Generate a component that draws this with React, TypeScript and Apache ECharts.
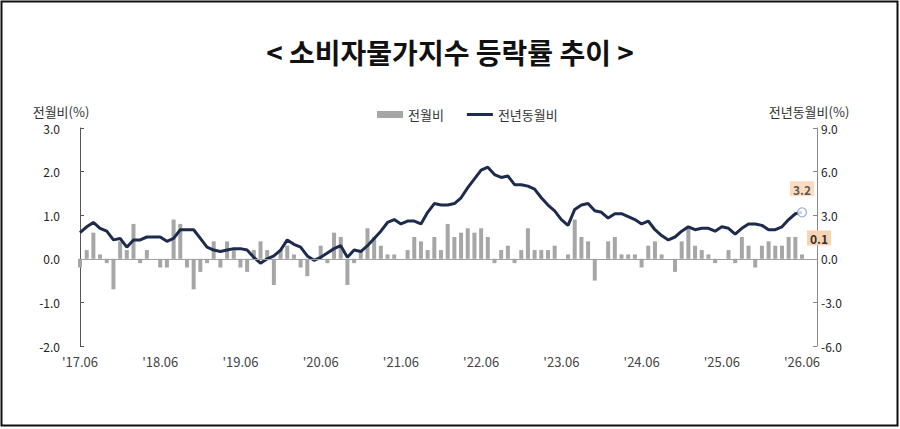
import React, { useEffect, useRef } from 'react';
import * as echarts from 'echarts';

const titleText = '< 소비자물가지수 등락률 추이 >';
const leftAxisName = '전월비(%)';
const rightAxisName = '전년동월비(%)';
const seriesNames = ['전월비', '전년동월비'];

// x tick labels, one every 12 months starting at index 0
const tickLabels = ["'17.06", "'18.06", "'19.06", "'20.06", "'21.06", "'22.06", "'23.06", "'24.06", "'25.06", "'26.06"];
const tickStep = 12;

// month-over-month change (%), 2017.06 .. 2026.06
const momValues = [
  -0.2, 0.2, 0.6, 0.1, -0.1, -0.7, 0.4, 0.2, 0.8, -0.1, 0.2, 0.0,
  -0.2, -0.2, 0.9, 0.8, -0.2, -0.7, -0.3, -0.1, 0.4, -0.2, 0.4, 0.2,
  -0.2, -0.3, 0.2, 0.4, 0.2, -0.6, 0.2, 0.3, 0.1, -0.2, -0.4, 0.0,
  0.3, -0.1, 0.6, 0.5, -0.6, -0.1, 0.2, 0.7, 0.5, 0.3, 0.1, 0.1,
  0.0, 0.2, 0.5, 0.4, 0.2, 0.5, 0.2, 0.8, 0.5, 0.6, 0.7, 0.6,
  0.7, 0.5, -0.1, 0.2, 0.3, -0.1, 0.2, 0.7, 0.2, 0.2, 0.2, 0.3,
  0.0, 0.1, 0.9, 0.5, 0.4, -0.5, 0.0, 0.4, 0.5, 0.1, 0.1, 0.1,
  -0.2, 0.3, 0.4, 0.1, 0.0, -0.3, 0.4, 0.7, 0.3, 0.2, 0.1, -0.1,
  0.0, 0.2, -0.1, 0.5, 0.3, -0.2, 0.3, 0.4, 0.3, 0.3, 0.5, 0.5,
  0.1,
];

// year-over-year change (%), 2017.06 .. 2026.06
const yoyValues = [
  1.8, 2.2, 2.5, 2.1, 1.9, 1.3, 1.4, 0.8, 1.3, 1.3, 1.5, 1.5,
  1.5, 1.2, 1.4, 2.0, 2.0, 2.0, 1.4, 0.8, 0.6, 0.5, 0.6, 0.7,
  0.7, 0.6, 0.1, -0.3, 0.0, 0.2, 0.6, 1.3, 1.0, 0.8, 0.2, -0.1,
  0.1, 0.4, 0.7, 0.9, 0.1, 0.6, 0.5, 0.9, 1.4, 1.9, 2.5, 2.7,
  2.4, 2.6, 2.6, 2.4, 3.2, 3.8, 3.7, 3.7, 3.8, 4.2, 4.9, 5.5,
  6.1, 6.3, 5.8, 5.6, 5.7, 5.1, 5.1, 5.0, 4.8, 4.2, 3.7, 3.3,
  2.7, 2.3, 3.4, 3.7, 3.8, 3.3, 3.2, 2.8, 3.1, 3.1, 2.9, 2.7,
  2.4, 2.6, 2.0, 1.6, 1.3, 1.5, 1.9, 2.2, 2.0, 2.1, 2.1, 1.9,
  2.2, 2.1, 1.7, 2.1, 2.4, 2.4, 2.3, 2.0, 2.0, 2.2, 2.7, 3.1,
  3.2,
];

const FONT = '"Noto Sans CJK KR", "Noto Sans", sans-serif';
const NAVY = '#1d2b4c';

export default function App() {
  const ref = useRef<HTMLDivElement>(null);

  useEffect(() => {
    if (!ref.current) return;
    const chart = echarts.init(ref.current, null, { renderer: 'svg' });
    const last = momValues.length - 1;
    const calloutLabel = {
      show: true,
      position: 'top',
      backgroundColor: '#fad3b2',
      padding: [2, 3, 1, 3],
      color: '#333',
      fontWeight: 'bold',
      fontSize: 12,
      fontFamily: FONT,
    };

    const barData = momValues.map((v, i) =>
      i === last
        ? { value: [i, v], label: { ...calloutLabel, formatter: v.toFixed(1), offset: [17, -4] } }
        : [i, v]
    );
    const lineData = yoyValues.map((v, i) => [i, v]);
    const lastPoint = [
      {
        value: [last, yoyValues[last]],
        label: { ...calloutLabel, formatter: yoyValues[last].toFixed(1), offset: [0, -6] },
      },
    ];

    chart.setOption({
      animation: false,
      textStyle: { fontFamily: FONT },
      title: {
        text: titleText,
        left: 'center',
        top: 33,
        textStyle: { fontSize: 28, fontWeight: 'bold', color: '#111', fontFamily: FONT },
      },
      legend: {
        left: 372,
        top: 103,
        itemWidth: 26,
        itemHeight: 7,
        itemGap: 23,
        symbolKeepAspect: true,
        data: [
          { name: seriesNames[0], icon: 'rect' },
          { name: seriesNames[1], icon: 'path://M0,0H26V3H0Z' },
        ],
        textStyle: { fontSize: 13, color: '#333', fontFamily: FONT },
      },
      graphic: [
        {
          type: 'rect',
          silent: true,
          shape: { x: 1.5, y: 1.5, width: 896, height: 424 },
          style: { fill: 'none', stroke: '#111', lineWidth: 2 },
        },
        {
          type: 'text',
          x: 61,
          y: 111,
          style: { text: leftAxisName, align: 'center', verticalAlign: 'middle', fontSize: 13, fill: '#333', fontFamily: FONT },
        },
        {
          type: 'text',
          x: 809,
          y: 111,
          style: { text: rightAxisName, align: 'center', verticalAlign: 'middle', fontSize: 13, fill: '#333', fontFamily: FONT },
        },
      ],
      grid: { left: 78, right: 83, top: 128, bottom: 83, containLabel: false, outerBoundsMode: 'none' },
      xAxis: {
        type: 'value',
        min: -0.3,
        max: 110.24,
        axisLine: { show: false },
        axisTick: { show: false },
        splitLine: { show: false },
        axisLabel: {
          customValues: tickLabels.map((_, k) => k * tickStep),
          formatter: (v: number) => tickLabels[Math.round(v / tickStep)] ?? '',
          fontSize: 13,
          color: '#444',
          margin: 9,
          fontFamily: FONT,
        },
      },
      yAxis: [
        {
          type: 'value',
          position: 'left',
          min: -2,
          max: 3,
          interval: 1,
          axisLine: { show: true, lineStyle: { color: '#555', width: 1 } },
          axisTick: { show: true, inside: true, length: 4, lineStyle: { color: '#555' } },
          splitLine: { show: false },
          axisLabel: { formatter: (v: number) => v.toFixed(1), margin: 18, fontSize: 12, color: '#222', fontFamily: FONT },
        },
        {
          type: 'value',
          position: 'right',
          min: -6,
          max: 9,
          interval: 3,
          axisLine: { show: true, lineStyle: { color: '#888', width: 1 } },
          axisTick: { show: true, inside: true, length: 4, lineStyle: { color: '#888' } },
          splitLine: { show: false },
          axisLabel: { formatter: (v: number) => v.toFixed(1), margin: 4, fontSize: 12, color: '#222', fontFamily: FONT },
        },
      ],
      series: [
        {
          name: seriesNames[0],
          type: 'bar',
          yAxisIndex: 0,
          barWidth: 4,
          itemStyle: { color: '#a6a6a6' },
          data: barData,
          markLine: {
            silent: true,
            symbol: ['none', 'none'],
            label: { show: false },
            lineStyle: { color: '#a0a0a0', width: 1, type: 'solid' },
            data: [{ yAxis: 0 }],
          },
        },
        {
          name: seriesNames[1],
          type: 'line',
          yAxisIndex: 1,
          symbol: 'none',
          showSymbol: false,
          lineStyle: { color: NAVY, width: 3 },
          itemStyle: { color: NAVY },
          data: lineData,
        },
        {
          name: 'last',
          type: 'scatter',
          yAxisIndex: 1,
          symbol: 'circle',
          symbolSize: 9,
          z: 5,
          itemStyle: { color: '#ffffff', borderColor: '#7f9cc4', borderWidth: 1.2 },
          data: lastPoint,
        },
      ],
    });
    return () => chart.dispose();
  }, []);

  return (
    <div
      ref={ref}
      style={{ position: 'fixed', left: 0, top: 0, width: 900, height: 429, background: '#ffffff' }}
    />
  );
}
